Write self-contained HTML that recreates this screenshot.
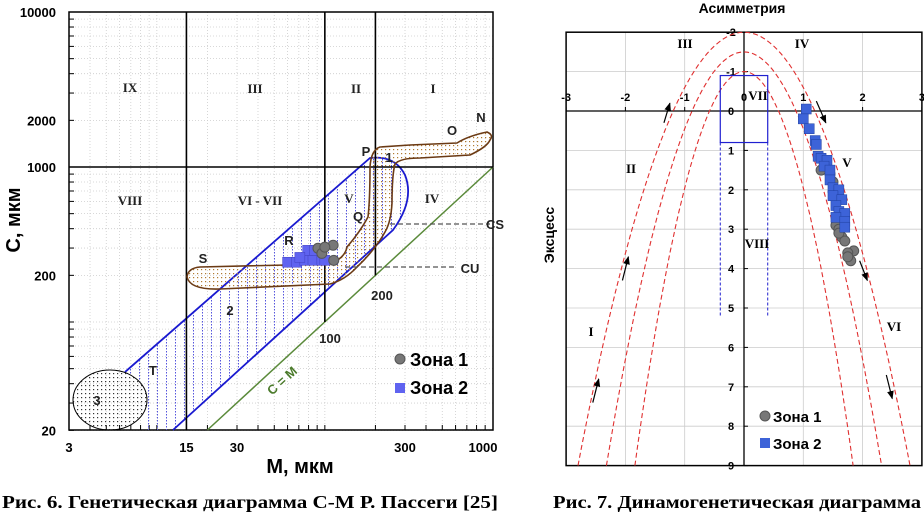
<!DOCTYPE html>
<html><head><meta charset="utf-8"><style>
body{margin:0;background:#fff;width:924px;height:517px;overflow:hidden}
svg{position:absolute;left:0;top:0}
.ax{font-family:"Liberation Sans",sans-serif;font-weight:bold}
.rn{font-family:"Liberation Serif",serif;font-weight:bold}
</style></head><body>
<svg id="s" width="924" height="517" viewBox="0 0 924 517">
<defs>
<pattern id="dots" width="4" height="4" patternUnits="userSpaceOnUse"><rect x="1" y="1" width="1.2" height="1.2" fill="#333"/></pattern>
<pattern id="bdots" width="4" height="4" patternUnits="userSpaceOnUse"><rect x="1" y="1" width="1.2" height="1.2" fill="#b07a30"/></pattern>
<pattern id="vblue" width="9" height="3" patternUnits="userSpaceOnUse"><rect x="4" y="0" width="1" height="1.5" fill="#5555dd"/></pattern>
<marker id="ar" viewBox="0 0 10 10" refX="9" refY="5" markerWidth="7" markerHeight="7" orient="auto"><path d="M0,1 L10,5 L0,9 z" fill="#000"/></marker>
</defs>
<g id="left"></g>
<g id="right"></g>
<text x="2" y="508" textLength="496" lengthAdjust="spacingAndGlyphs" class="rn" font-size="18">Рис. 6. Генетическая диаграмма С-М  Р. Пассеги [25]</text>
<text x="553" y="508" textLength="368" lengthAdjust="spacingAndGlyphs" class="rn" font-size="18">Рис. 7. Динамогенетическая диаграмма</text>
</svg>
<script>
// ---- Left chart data ----
const zone1M = [91, 112, 113, 96, 100];
const zone1C = [299, 313, 250, 277, 304];
const zone2M = [60, 68, 76, 85, 96, 79, 87, 71, 100];
const zone2C = [243, 243, 250, 250, 250, 290, 290, 261, 250];
const xTickVals = [3, 15, 30, 300, 1000];
const yTickVals = [10000, 2000, 1000, 200, 20];
// ---- Right chart data ----
const z1Skew = [1.3, 1.5, 1.55, 1.6, 1.65, 1.7, 1.85, 1.75, 1.8, 1.75, 1.45, 1.6];
const z1Kurt = [1.5, 1.8, 2.9, 3.0, 3.2, 3.3, 3.55, 3.6, 3.8, 3.7, 1.6, 3.1];
const z2Skew = [1.05, 1.0, 1.1, 1.2, 1.22, 1.25, 1.3, 1.4, 1.35, 1.45, 1.45, 1.5, 1.6, 1.5, 1.65, 1.55, 1.6, 1.7, 1.55, 1.7, 1.7];
const z2Kurt = [-0.05, 0.2, 0.45, 0.75, 0.85, 1.15, 1.2, 1.25, 1.4, 1.5, 1.75, 1.95, 2.0, 2.15, 2.25, 2.4, 2.55, 2.6, 2.7, 2.8, 2.95];
const rxTicks = [-3, -2, -1, 0, 1, 2, 3];
const ryTicks = [-2, -1, 0, 1, 2, 3, 4, 5, 6, 7, 8, 9];
const curveVertex = [-2, -1.5, -1];
const curveHalfWidth = [2.8, 2.32, 1.84];

const NS = "http://www.w3.org/2000/svg";
function mk(p, tag, a, txt){const e=document.createElementNS(NS,tag);for(const k in a)e.setAttribute(k,a[k]);if(txt!==undefined)e.textContent=txt;p.appendChild(e);return e;}

// ===== LEFT =====
const L = document.getElementById('left');
const lx = m => 69 + Math.log10(m/3)*168;
const ly = c => 12 + Math.log10(10000/c)*155;
const gridG = mk(L,'g',{});


for (const dec of [1,10,100]) for (let k=1;k<10;k++){const m=dec*k; if(m<3||m>1000)continue;
  mk(gridG,'line',{x1:lx(m),x2:lx(m),y1:12,y2:430,stroke:'#ccc','stroke-dasharray':'1,2','stroke-width':0.8});}
for (const dec of [10,100,1000]) for (let k=1;k<10;k++){const c=dec*k; if(c<20||c>10000)continue;
  mk(gridG,'line',{x1:69,x2:493,y1:ly(c),y2:ly(c),stroke:'#ccc','stroke-dasharray':'1,2','stroke-width':0.8});}
const fr = mk(L,'rect',{x:69,y:12,width:424,height:418,fill:'none',stroke:'#000','stroke-width':1.5});


for (const dec of [1,10,100]) for (let k=1;k<10;k++){const m=dec*k; if(m<3||m>1000)continue; mk(L,'line',{x1:lx(m),x2:lx(m),y1:430,y2:425,stroke:'#000'});}
for (const dec of [10,100,1000]) for (let k=1;k<10;k++){const c=dec*k; if(c<20||c>10000)continue; mk(L,'line',{x1:69,x2:74,y1:ly(c),y2:ly(c),stroke:'#000'});}
const b2 = mk(L,'path',{d:'M125,372 L370,158 Q395,155 405,175 Q415,200 393,230 L173,430 L140,430 L140,380 Z',fill:'url(#vblue)',stroke:'none'});


const b2o = mk(L,'path',{d:'M125,372 L370,158 Q395,155 405,175 Q415,200 393,230 L173,430',fill:'none',stroke:'#1a1ad0','stroke-width':1.8});


const cm = mk(L,'line',{x1:lx(20),y1:430,x2:493,y2:167,stroke:'#5a8a3a','stroke-width':1.5});


const bd = mk(L,'g',{stroke:'#000','stroke-width':1.6});


mk(bd,'line',{x1:69,x2:493,y1:ly(1000),y2:ly(1000)});
mk(bd,'line',{x1:lx(15),x2:lx(15),y1:12,y2:430});
mk(bd,'line',{x1:lx(100),x2:lx(100),y1:12,y2:ly(100)});
mk(bd,'line',{x1:lx(200),x2:lx(200),y1:12,y2:ly(200)});
const br = mk(L,'path',{d:'M187,277 Q188,268 200,267 L330,264 Q345,258 347,247 Q360,232 368,217 Q370,200 370,167 Q371,150 380,147 L410,145 L457,143 Q468,136 487,132 Q494,135 490,140 Q487,147 470,155 L420,158 Q400,158 395,164 Q392,175 392,203 Q391,222 385,232 Q375,250 357,267 Q345,280 330,284 L220,289 Q190,290 187,277 Z',fill:'url(#bdots)',stroke:'#6b3a14','stroke-width':1.6});


const el3 = mk(L,'ellipse',{cx:110,cy:400,rx:37,ry:30,fill:'url(#dots)',stroke:'#000','stroke-width':1});


const cs = mk(L,'line',{x1:390,x2:490,y1:224,y2:224,stroke:'#555','stroke-dasharray':'5,3','stroke-width':1.3});


const cu = mk(L,'line',{x1:345,x2:455,y1:267,y2:267,stroke:'#555','stroke-dasharray':'5,3','stroke-width':1.3});


for (let i=0;i<zone2M.length;i++){const r=mk(L,'rect',{x:lx(zone2M[i])-5,y:ly(zone2C[i])-5,width:10,height:10,fill:'#5f63f0',stroke:'#4040c0','stroke-width':0.5});
  
  }
for (let i=0;i<zone1M.length;i++){const c=mk(L,'circle',{cx:lx(zone1M[i]),cy:ly(zone1C[i]),r:5,fill:'#777',stroke:'#555'});
  
  }
const rl=[['IX',130,92],['III',255,93],['II',356,93],['I',433,93],['VIII',130,205],['VI - VII',260,205],['V',349,203],['IV',432,203]];
for (const [t,x,y] of rl){const e=mk(L,'text',{x:x,y:y,'text-anchor':'middle',class:'rn','font-size':13,fill:'#222'},t);
  
  }
const sl=[['Q',358,221],['R',289,245],['S',203,263],['2',230,315],['T',153,375],['3',97,405],['P',366,156],['1',389,162],['O',452,135],['N',481,122],['200',382,300],['100',330,343],['CS',495,229],['CU',470,273]];
for (const [t,x,y] of sl){const e=mk(L,'text',{x:x,y:y,'text-anchor':'middle',class:'ax','font-size':13,fill:'#222'},t);
  
  }
const cml = mk(L,'text',{x:285,y:384,class:'ax','font-size':13,fill:'#4a7a2a',transform:'rotate(-42 285 384)','text-anchor':'middle'},'C = M');


for (const v of xTickVals){const e=mk(L,'text',{x:Math.min(lx(v),483),y:452,'text-anchor':'middle',class:'ax','font-size':13},String(v));
  
  }
for (const v of yTickVals){const e=mk(L,'text',{x:56,y:ly(v)+5,'text-anchor':'end',class:'ax','font-size':13},String(v));
  
  }
const xt = mk(L,'text',{x:300,y:473,'text-anchor':'middle',class:'ax','font-size':20},'M, мкм');


const yt = mk(L,'text',{x:20,y:220,'text-anchor':'middle',class:'ax','font-size':20,transform:'rotate(-90 20 220)'},'C, мкм');


const lg=mk(L,'g',{});


mk(lg,'circle',{cx:400,cy:359,r:5,fill:'#777',stroke:'#555'});
mk(lg,'text',{x:410,y:366,class:'ax','font-size':18},'Зона 1');
mk(lg,'rect',{x:395,y:383,width:10,height:10,fill:'#5f63f0'});
mk(lg,'text',{x:410,y:394,class:'ax','font-size':18},'Зона 2');

// ===== RIGHT =====
const R = document.getElementById('right');
const rx = v => 744 + v*59.3;
const ry = v => 111 + v*39.4;
const rg = mk(R,'g',{stroke:'#ccc','stroke-width':0.8});


for (const v of rxTicks) mk(rg,'line',{x1:rx(v),x2:rx(v),y1:ry(-2),y2:ry(9)});
for (const v of ryTicks) mk(rg,'line',{x1:rx(-3),x2:rx(3),y1:ry(v),y2:ry(v)});
const rf = mk(R,'rect',{x:rx(-3),y:ry(-2),width:rx(3)-rx(-3),height:ry(9)-ry(-2),fill:'none',stroke:'#000','stroke-width':1.5});


const xa = mk(R,'line',{x1:rx(-3),x2:rx(3),y1:ry(0),y2:ry(0),stroke:'#000','stroke-width':1.3});


const ya = mk(R,'line',{x1:rx(0),x2:rx(0),y1:ry(-2),y2:ry(9),stroke:'#000','stroke-width':1.3});


for (const v of rxTicks){mk(R,'line',{x1:rx(v),x2:rx(v),y1:ry(0)-4,y2:ry(0),stroke:'#000'});
  const e=mk(R,'text',{x:rx(v),y:ry(0)-10,'text-anchor':'middle',class:'ax','font-size':11,'font-weight':'normal'},String(v));
  
  }
for (const v of ryTicks){mk(R,'line',{x1:rx(0),x2:rx(0)+4,y1:ry(v),y2:ry(v),stroke:'#000'});
  const e=mk(R,'text',{x:rx(0)-13,y:ry(v)+4,'text-anchor':'middle',class:'ax','font-size':11,'font-weight':'normal'},String(v));
  
  }
for (let i=0;i<curveVertex.length;i++){let d='';const h=curveHalfWidth[i],v0=curveVertex[i];
  for (let k=0;k<=80;k++){const x=-h+2*h*k/80;const y=v0+(9-v0)*(x/h)*(x/h);d+=(k?'L':'M')+rx(x).toFixed(1)+','+ry(y).toFixed(1);}
  const p=mk(R,'path',{d:d,fill:'none',stroke:'#e03030','stroke-width':1.1,'stroke-dasharray':'5,3'});
  
  }
const bx=mk(R,'rect',{x:rx(-0.4),y:ry(-0.9),width:rx(0.4)-rx(-0.4),height:ry(0.8)-ry(-0.9),fill:'none',stroke:'#2020d0','stroke-width':1.2});


for (const v of [-0.4,0.4]){const l=mk(R,'line',{x1:rx(v),x2:rx(v),y1:ry(0.8),y2:ry(5.2),stroke:'#2020d0','stroke-dasharray':'3,2','stroke-width':1});
  
  }
const arr=[[-2.55,7.4,-2.45,6.8],[-2.05,4.3,-1.95,3.7],[-1.35,0.3,-1.25,-0.2],[1.22,-0.25,1.38,0.3],[1.95,3.8,2.08,4.3],[2.4,6.7,2.5,7.3]];
for (const a of arr){const l=mk(R,'line',{x1:rx(a[0]),y1:ry(a[1]),x2:rx(a[2]),y2:ry(a[3]),stroke:'#000','stroke-width':1.2,'marker-end':'url(#ar)'});
  
  }
for (let i=0;i<z1Skew.length;i++){const c=mk(R,'circle',{cx:rx(z1Skew[i]),cy:ry(z1Kurt[i]),r:5,fill:'#777',stroke:'#555'});
  
  }
for (let i=0;i<z2Skew.length;i++){const r=mk(R,'rect',{x:rx(z2Skew[i])-5,y:ry(z2Kurt[i])-5,width:10,height:10,fill:'#3d63d8',stroke:'#2040a0','stroke-width':0.5});
  
  }
const rr=[['III',685,48],['IV',802,48],['II',631,173],['VII',758,100],['V',847,167],['VIII',757,248],['I',591,336],['VI',894,331]];
for (const [t,x,y] of rr){const e=mk(R,'text',{x:x,y:y,'text-anchor':'middle',class:'rn','font-size':13},t);
  
  }
const tt=mk(R,'text',{x:742,y:13,'text-anchor':'middle',class:'ax','font-size':14},'Асимметрия');


const et=mk(R,'text',{x:554,y:235,'text-anchor':'middle',class:'ax','font-size':14,transform:'rotate(-90 554 235)'},'Эксцесс');


const rlg=mk(R,'g',{});


mk(rlg,'circle',{cx:765,cy:416,r:5,fill:'#777',stroke:'#555'});
mk(rlg,'text',{x:773,y:422,class:'ax','font-size':15},'Зона 1');
mk(rlg,'rect',{x:760,y:438,width:10,height:10,fill:'#3d63d8'});
mk(rlg,'text',{x:773,y:449,class:'ax','font-size':15},'Зона 2');
</script>
</body></html>
